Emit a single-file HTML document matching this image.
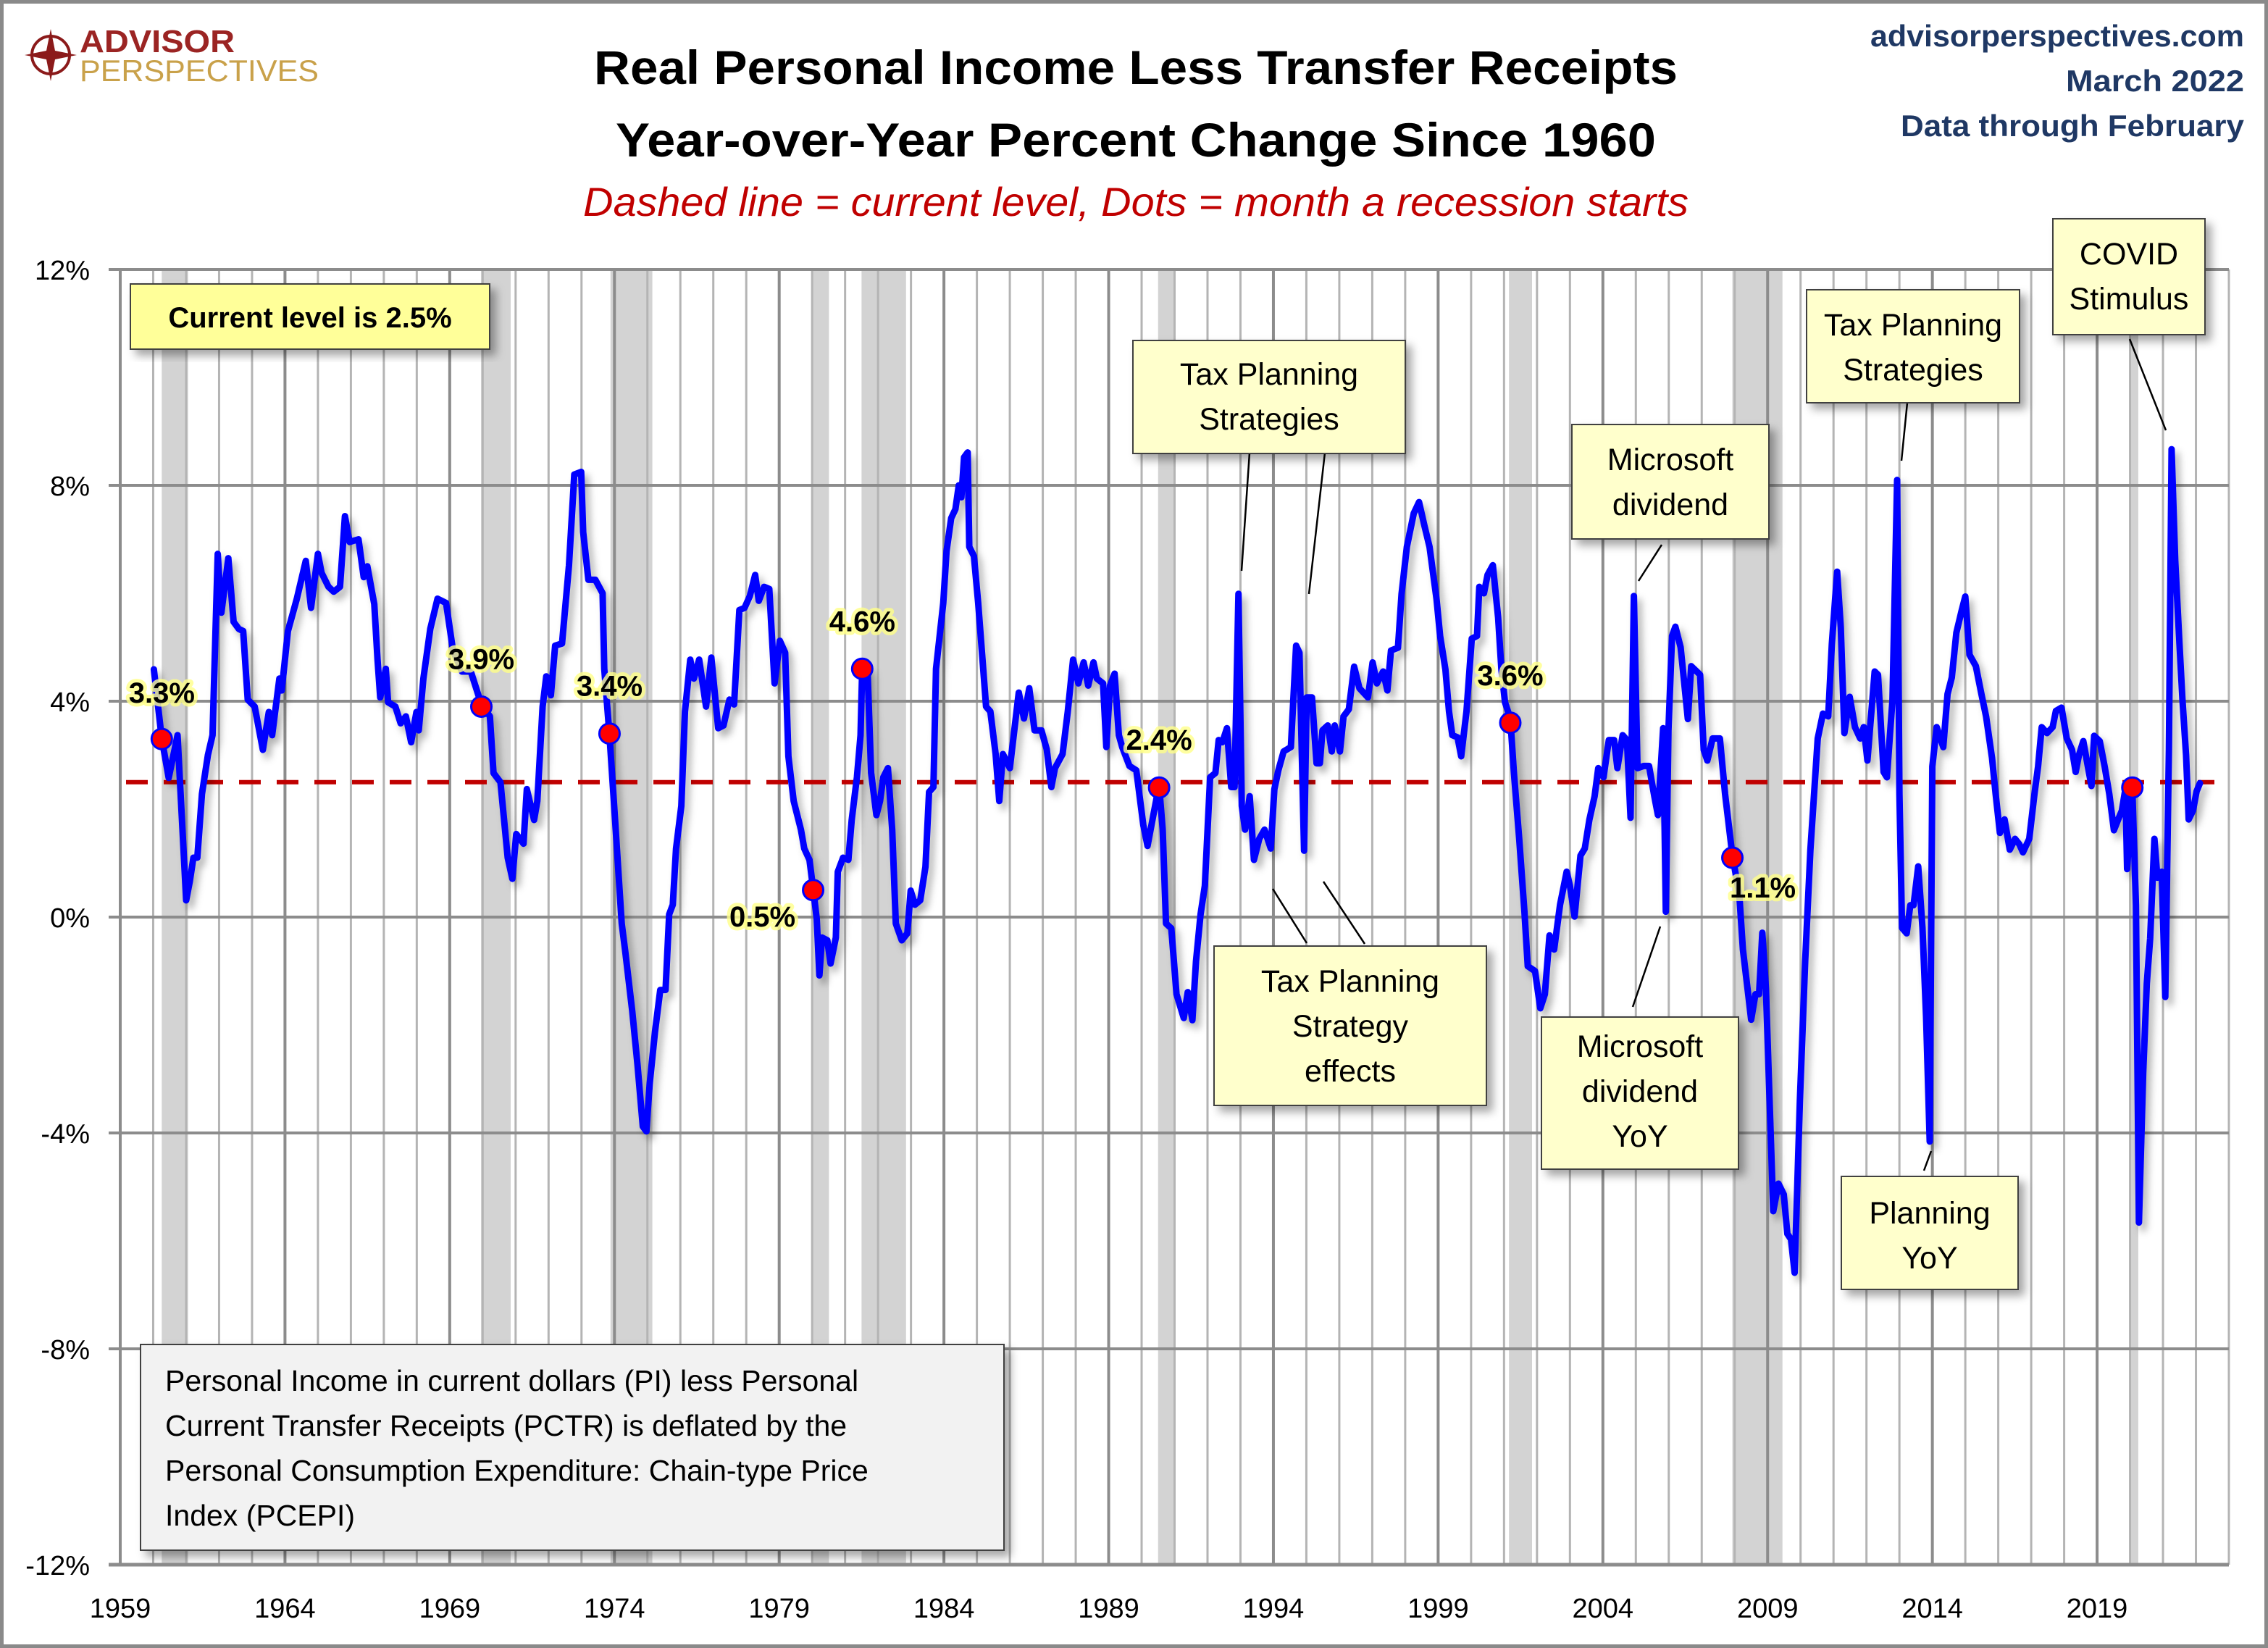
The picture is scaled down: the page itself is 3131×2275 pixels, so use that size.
<!DOCTYPE html>
<html><head><meta charset="utf-8"><title>Real Personal Income Less Transfer Receipts</title>
<style>
html,body{margin:0;padding:0;background:#fff;}
svg{display:block;font-family:"Liberation Sans",sans-serif;}
</style></head>
<body>
<svg id="chart" xmlns="http://www.w3.org/2000/svg" width="3131" height="2275" viewBox="0 0 3131 2275">
<defs>
<filter id="shadow" x="-5%" y="-5%" width="110%" height="110%"><feDropShadow dx="6" dy="8" stdDeviation="5" flood-color="#000" flood-opacity="0.3"/></filter>
<filter id="boxshadow" x="-10%" y="-10%" width="125%" height="130%"><feDropShadow dx="8" dy="8" stdDeviation="6" flood-color="#000" flood-opacity="0.35"/></filter>
</defs>
<rect x="0" y="0" width="3131" height="2275" fill="#fff"/>
<rect x="2.5" y="2.5" width="3126" height="2270" fill="none" stroke="#8a8a8a" stroke-width="5"/>
<g id="plot"></g>
<g>
<circle cx="70" cy="76" r="26" fill="none" stroke="#8B1A1A" stroke-width="4"/>
<polygon points="70,40 76,70 106,76 76,82 70,112 64,82 34,76 64,70" fill="#8B1A1A"/>
<text x="110" y="72" font-size="44" font-weight="bold" fill="#9B2423" textLength="214" lengthAdjust="spacingAndGlyphs">ADVISOR</text>
<text x="110" y="112" font-size="42" fill="#C9A14A" textLength="330" lengthAdjust="spacingAndGlyphs">PERSPECTIVES</text>
</g>
<text x="1568" y="116" text-anchor="middle" font-size="66" font-weight="bold" fill="#000" textLength="1496" lengthAdjust="spacingAndGlyphs">Real Personal Income Less Transfer Receipts</text>
<text x="1568" y="216" text-anchor="middle" font-size="66" font-weight="bold" fill="#000" textLength="1436" lengthAdjust="spacingAndGlyphs">Year-over-Year Percent Change Since 1960</text>
<text x="1568" y="298" text-anchor="middle" font-size="56" font-style="italic" fill="#C00000" textLength="1526" lengthAdjust="spacingAndGlyphs">Dashed line = current level, Dots = month a recession starts</text>
<text x="3098" y="64" text-anchor="end" font-size="42" font-weight="bold" fill="#1F3864" textLength="516" lengthAdjust="spacingAndGlyphs">advisorperspectives.com</text>
<text x="3098" y="126" text-anchor="end" font-size="42" font-weight="bold" fill="#1F3864" textLength="246" lengthAdjust="spacingAndGlyphs">March 2022</text>
<text x="3098" y="188" text-anchor="end" font-size="42" font-weight="bold" fill="#1F3864" textLength="474" lengthAdjust="spacingAndGlyphs">Data through February</text>
</svg>
<script>
const yTicks = [12, 8, 4, 0, -4, -8, -12];
const yTickLabels = ["12%", "8%", "4%", "0%", "-4%", "-8%", "-12%"];
const xTickYears = [1959, 1964, 1969, 1974, 1979, 1984, 1989, 1994, 1999, 2004, 2009, 2014, 2019];
const currentLevel = 2.5;
const recessionStarts = [1960.26, 1969.95, 1973.88, 1980.03, 1981.5, 1990.5, 2001.15, 2007.93, 2019.99];
const recessionEnds   = [1961.06, 1970.85, 1975.15, 1980.51, 1982.85, 1991.0, 2001.85, 2009.45, 2020.25];
const dotYears  = [1960.26, 1969.96, 1973.85, 1980.03, 1981.52, 1990.53, 2001.19, 2007.93, 2020.07];
const dotValues = [3.3, 3.9, 3.4, 0.5, 4.6, 2.4, 3.6, 1.1, 2.4];
const dotLabels = ["3.3%", "3.9%", "3.4%", "0.5%", "4.6%", "2.4%", "3.6%", "1.1%", "2.4%"];
const incomeSeries = [
[1960.02,4.59],[1960.26,3.31],[1960.47,2.58],[1960.74,3.37],[1961.0,0.31],[1961.11,0.66],[1961.22,1.1],[1961.34,1.1],[1961.48,2.28],[1961.66,3.0],[1961.8,3.37],[1961.96,6.73],[1962.07,5.64],[1962.28,6.65],[1962.44,5.47],[1962.6,5.34],[1962.73,5.3],[1962.87,4.03],[1963.08,3.9],[1963.33,3.1],[1963.51,3.8],[1963.61,3.37],[1963.83,4.42],[1963.9,4.2],[1964.09,5.3],[1964.36,5.9],[1964.63,6.6],[1964.79,5.73],[1965.0,6.73],[1965.11,6.38],[1965.32,6.12],[1965.48,6.03],[1965.67,6.12],[1965.82,7.43],[1965.96,6.95],[1966.23,7.0],[1966.39,6.3],[1966.5,6.5],[1966.71,5.8],[1966.81,4.77],[1966.89,4.07],[1967.06,4.6],[1967.13,3.98],[1967.35,3.9],[1967.51,3.59],[1967.67,3.72],[1967.83,3.24],[1967.99,3.8],[1968.06,3.46],[1968.2,4.42],[1968.41,5.34],[1968.63,5.9],[1968.89,5.82],[1969.1,4.94],[1969.37,4.55],[1969.64,4.55],[1969.96,3.94],[1970.22,3.72],[1970.33,2.67],[1970.54,2.5],[1970.76,1.1],[1970.9,0.71],[1971.02,1.54],[1971.24,1.36],[1971.34,2.37],[1971.56,1.8],[1971.66,2.15],[1971.82,3.9],[1971.93,4.46],[1972.07,4.11],[1972.2,5.03],[1972.41,5.07],[1972.62,6.52],[1972.78,8.2],[1972.99,8.25],[1973.05,7.13],[1973.21,6.25],[1973.42,6.25],[1973.64,6.0],[1973.69,4.6],[1973.85,3.37],[1974.01,1.89],[1974.22,-0.12],[1974.33,-0.65],[1974.54,-1.74],[1974.7,-2.74],[1974.86,-3.88],[1974.97,-3.97],
[1975.07,-3.09],[1975.23,-2.13],[1975.39,-1.35],[1975.55,-1.35],[1975.66,0.05],[1975.77,0.23],[1975.87,1.27],[1976.03,2.06],[1976.14,3.81],[1976.3,4.77],[1976.41,4.42],[1976.57,4.77],[1976.78,3.9],[1976.94,4.81],[1977.15,3.5],[1977.31,3.55],[1977.49,4.03],[1977.63,3.94],[1977.79,5.69],[1977.95,5.73],[1978.11,5.95],[1978.27,6.34],[1978.38,5.86],[1978.54,6.12],[1978.7,6.08],[1978.86,4.33],[1979.02,5.12],[1979.18,4.9],[1979.28,2.98],[1979.44,2.15],[1979.66,1.62],[1979.76,1.27],[1979.92,1.06],[1980.03,0.53],[1980.14,-0.03],[1980.22,-1.08],[1980.3,-0.38],[1980.46,-0.43],[1980.56,-0.86],[1980.72,-0.38],[1980.78,0.84],[1980.94,1.1],[1981.1,1.06],[1981.2,1.8],[1981.36,2.59],[1981.47,3.37],[1981.52,4.6],[1981.68,4.6],[1981.79,2.67],[1981.95,1.89],[1982.06,2.15],[1982.16,2.59],[1982.3,2.76],[1982.43,1.62],[1982.54,-0.12],[1982.72,-0.43],[1982.89,-0.3],[1982.99,0.49],[1983.12,0.23],[1983.28,0.31],[1983.44,0.93],[1983.55,2.32],[1983.68,2.41],[1983.76,4.6],[1983.98,5.82],[1984.08,6.78],[1984.22,7.39],[1984.35,7.56],[1984.45,8.0],[1984.53,7.78],[1984.61,8.52],[1984.72,8.61],[1984.77,6.86],[1984.91,6.69],[1985.04,5.82],[1985.15,4.94],[1985.28,3.9],[1985.41,3.81],[1985.57,3.02],[1985.68,2.15],[1985.79,3.02],[1986.0,2.76],[1986.27,4.16],[1986.43,3.68],[1986.59,4.24],[1986.75,3.46],[1986.96,3.46],[1987.12,3.11],[1987.26,2.41],[1987.37,2.76],[1987.6,3.02],[1987.76,3.81],[1987.92,4.77],[1988.08,4.33],[1988.24,4.72],[1988.38,4.29],[1988.54,4.72],[1988.64,4.42],[1988.83,4.33],[1988.93,3.15],[1989.04,4.29],[1989.18,4.51],[1989.31,3.37],[1989.41,3.15],[1989.63,2.8],[1989.84,2.72],[1990.05,1.71],[1990.18,1.32],[1990.53,2.45],
[1990.64,1.62],[1990.74,-0.12],[1990.9,-0.21],[1991.06,-1.43],[1991.28,-1.87],[1991.4,-1.39],[1991.54,-1.91],[1991.65,-0.82],[1991.79,0.05],[1991.92,0.58],[1992.08,2.59],[1992.24,2.67],[1992.34,3.28],[1992.45,3.24],[1992.59,3.5],[1992.72,2.41],[1992.82,2.41],[1992.94,5.99],[1993.04,2.06],[1993.14,1.62],[1993.28,2.24],[1993.41,1.06],[1993.57,1.45],[1993.73,1.62],[1993.92,1.27],[1994.03,2.37],[1994.15,2.72],[1994.31,3.07],[1994.53,3.15],[1994.69,5.03],[1994.79,4.9],[1994.93,1.23],[1995.01,4.07],[1995.17,4.07],[1995.31,2.85],[1995.41,2.85],[1995.49,3.46],[1995.65,3.55],[1995.77,3.07],[1995.86,3.55],[1996.02,3.07],[1996.13,3.72],[1996.29,3.85],[1996.45,4.64],[1996.61,4.24],[1996.87,4.07],[1997.01,4.72],[1997.14,4.33],[1997.33,4.55],[1997.46,4.2],[1997.57,4.94],[1997.78,4.99],[1997.89,5.99],[1998.05,6.86],[1998.26,7.48],[1998.42,7.69],[1998.58,7.26],[1998.74,6.86],[1998.95,5.9],[1999.06,5.21],[1999.22,4.59],[1999.33,3.81],[1999.43,3.37],[1999.59,3.33],[1999.7,2.98],[1999.86,3.81],[2000.02,5.16],[2000.18,5.21],[2000.25,6.12],[2000.39,6.0],[2000.5,6.34],[2000.66,6.52],[2000.82,5.55],[2000.92,4.59],[2001.03,3.98],[2001.19,3.68],[2001.3,2.67],[2001.46,1.45],[2001.62,0.1],[2001.72,-0.91],[2001.94,-1.0],[2002.1,-1.69],[2002.24,-1.43],[2002.38,-0.34],[2002.52,-0.6],[2002.7,0.23],[2002.9,0.84],[2003.0,0.58],[2003.14,0.01],[2003.32,1.14],[2003.45,1.27],[2003.59,1.8],[2003.75,2.24],[2003.86,2.76],[2004.02,2.59],[2004.18,3.28],[2004.34,3.28],[2004.44,2.76],[2004.6,3.37],[2004.73,3.28],[2004.84,1.84],[2004.94,5.95],[2005.05,2.76],[2005.24,2.8],[2005.4,2.8],[2005.56,2.24],[2005.67,1.89],[2005.83,3.5],[2005.91,0.1],[2005.99,3.46],[2006.1,5.21],[2006.2,5.38],
[2006.36,5.0],[2006.47,4.34],[2006.58,3.67],[2006.68,4.65],[2006.85,4.55],[2006.95,4.49],[2007.06,3.1],[2007.17,2.9],[2007.33,3.31],[2007.55,3.31],[2007.71,2.28],[2007.93,1.14],[2008.14,0.42],[2008.25,-0.6],[2008.41,-1.43],[2008.5,-1.9],[2008.63,-1.43],[2008.74,-1.43],[2008.84,-0.29],[2008.95,-1.33],[2009.06,-3.39],[2009.17,-5.45],[2009.33,-4.94],[2009.49,-5.14],[2009.6,-5.87],[2009.71,-5.97],[2009.82,-6.59],[2009.98,-3.39],[2010.14,-0.81],[2010.3,1.25],[2010.52,3.31],[2010.68,3.77],[2010.84,3.72],[2010.95,5.06],[2011.11,6.4],[2011.22,5.37],[2011.33,3.41],[2011.49,4.08],[2011.65,3.52],[2011.81,3.31],[2011.92,3.52],[2012.03,2.9],[2012.25,4.55],[2012.35,4.49],[2012.52,2.69],[2012.62,2.59],[2012.79,4.03],[2012.93,8.1],[2013.0,2.28],[2013.08,-0.2],[2013.22,-0.3],[2013.33,0.22],[2013.43,0.22],[2013.57,0.94],[2013.7,-0.2],[2013.81,-1.85],[2013.92,-4.16],[2014.0,2.79],[2014.13,3.52],[2014.33,3.15],[2014.46,4.13],[2014.59,4.44],[2014.73,5.27],[2014.89,5.68],[2015.0,5.94],[2015.13,4.86],[2015.32,4.65],[2015.49,4.13],[2015.63,3.72],[2015.81,2.95],[2015.92,2.28],[2016.05,1.56],[2016.19,1.81],[2016.35,1.25],[2016.51,1.45],[2016.64,1.35],[2016.75,1.2],[2016.94,1.45],[2017.1,2.28],[2017.21,2.79],[2017.32,3.52],[2017.48,3.41],[2017.65,3.52],[2017.75,3.82],[2017.92,3.88],[2018.08,3.31],[2018.24,3.1],[2018.35,2.69],[2018.45,3.0],[2018.58,3.26],[2018.72,2.79],[2018.83,2.43],[2018.91,3.36],[2019.08,3.26],[2019.23,2.79],[2019.37,2.28],[2019.51,1.61],[2019.64,1.81],[2019.75,1.97],[2019.86,2.38],[2019.91,0.89],[2020.07,2.38],[2020.18,0.22],[2020.27,-5.66],[2020.4,-2.88],[2020.51,-1.23],[2020.61,-0.4],[2020.74,1.45],[2020.83,0.73],[2020.96,0.84],[2021.07,-1.48],[2021.18,3.1],[2021.26,8.67],[2021.37,6.61],[2021.5,5.06],[2021.59,4.03],[2021.7,3.0],[2021.78,1.81],[2021.91,1.97],[2022.02,2.33],[2022.12,2.48]
];

const NS = "http://www.w3.org/2000/svg";
const X0 = 166, X1 = 3077, Y0 = 372, Y1 = 2160;
const yearMin = 1959, yearMax = 2023, vMax = 12, vMin = -12;
function xScale(yr){ return X0 + (yr - yearMin) / (yearMax - yearMin) * (X1 - X0); }
function yScale(v){ return Y0 + (vMax - v) / (vMax - vMin) * (Y1 - Y0); }
function mk(tag, attrs, parent){
  const el = document.createElementNS(NS, tag);
  for (const k in attrs) el.setAttribute(k, attrs[k]);
  (parent || plot).appendChild(el);
  return el;
}
const svg = document.getElementById('chart');
const plot = document.getElementById('plot');

for (let i = 0; i < recessionStarts.length; i++) {
  const r = mk('rect', {x: xScale(recessionStarts[i]), y: Y0, width: xScale(recessionEnds[i]) - xScale(recessionStarts[i]), height: Y1 - Y0, fill: '#d3d3d3'});
  
  
}
for (let yr = yearMin + 1; yr <= yearMax; yr++) {
  const major = (yr - yearMin) % 5 === 0;
  const l = mk('line', {x1: xScale(yr), x2: xScale(yr), y1: Y0, y2: Y1, stroke: major ? '#8c8c8c' : '#b4b4b4', 'stroke-width': major ? 4 : 3});
  
  
}
for (let i = 0; i < yTicks.length; i++) {
  const y = yScale(yTicks[i]);
  const g = mk('line', {x1: 150, x2: X1, y1: y, y2: y, stroke: '#8c8c8c', 'stroke-width': 4});
  
  
  const t = mk('text', {x: 124, y: y + 14, 'text-anchor': 'end', 'font-size': 38, fill: '#000'});
  t.textContent = yTickLabels[i];
  
  
}
const ax = mk('line', {x1: X0, x2: X0, y1: Y0, y2: Y1, stroke: '#8c8c8c', 'stroke-width': 4});


const bx = mk('line', {x1: X0 - 16, x2: X1, y1: Y1, y2: Y1, stroke: '#8c8c8c', 'stroke-width': 5});


for (const yr of xTickYears) {
  const t = mk('text', {x: xScale(yr), y: 2233, 'text-anchor': 'middle', 'font-size': 38, fill: '#000'});
  t.textContent = String(yr);
  
  
}
const cl = mk('line', {x1: X0 + 8, x2: X1 - 20, y1: yScale(currentLevel), y2: yScale(currentLevel), stroke: '#C00000', 'stroke-width': 6, 'stroke-dasharray': '30 22'});


const pts = incomeSeries.map(p => xScale(p[0]).toFixed(1) + ',' + yScale(p[1]).toFixed(1)).join(' ');
const line = mk('polyline', {points: pts, fill: 'none', stroke: '#0000FF', 'stroke-width': 9, 'stroke-linejoin': 'round', 'stroke-linecap': 'round', filter: 'url(#shadow)'});


for (let i = 0; i < dotYears.length; i++) {
  const c = mk('circle', {cx: xScale(dotYears[i]), cy: yScale(dotValues[i]), r: 14, fill: '#FF0000', stroke: '#0000FF', 'stroke-width': 3});
  
  
}
const labelDx = [0, 0, 0, -70, 0, 0, 0, 42, 0];
const labelDy = [-50, -52, -52, 50, -52, -52, -52, 55, 0];
for (let i = 0; i < dotYears.length - 1; i++) {
  const t = mk('text', {x: xScale(dotYears[i]) + labelDx[i], y: yScale(dotValues[i]) + labelDy[i], 'text-anchor': 'middle', 'font-size': 40, 'font-weight': 'bold', fill: '#000', stroke: '#FFFF88', 'stroke-width': 10, 'stroke-opacity': 0.8, 'paint-order': 'stroke', 'stroke-linejoin': 'round'});
  t.textContent = dotLabels[i];
  
  
}
const leaders = [[1725,625,1714,788],[1829,625,1807,820],[1757,1227,1804,1302],[1827,1217,1884,1303],[2294,752,2262,802],[2292,1279,2254,1390],[2666,1589,2656,1616],[2633,556,2625,636],[2940,468,2990,594]];
for (const L of leaders) {
  const l = mk('line', {x1: L[0], y1: L[1], x2: L[2], y2: L[3], stroke: '#000', 'stroke-width': 2.5}, svg);
  
  
}
function box(name, x, y, w, h, fill, lines, baselines, size, weight, anchor, tx) {
  const g = mk('g', {}, svg);
  
  
  mk('rect', {x: x, y: y, width: w, height: h, fill: fill, stroke: '#404040', 'stroke-width': 2, filter: 'url(#boxshadow)'}, g);
  for (let i = 0; i < lines.length; i++) {
    const t = mk('text', {x: tx !== undefined ? tx : x + w / 2, y: baselines[i], 'text-anchor': anchor || 'middle', 'font-size': size, 'font-weight': weight || 'normal', fill: '#000'}, g);
    t.textContent = lines[i];
  }
}
box('current-level-box', 180, 392, 496, 90, '#FFFF99', ['Current level is 2.5%'], [452], 40, 'bold');
box('tax-planning-annotation', 1564, 470, 376, 156, '#FFFFCC', ['Tax Planning', 'Strategies'], [531, 593], 43);
box('microsoft-dividend-annotation', 2170, 586, 272, 158, '#FFFFCC', ['Microsoft', 'dividend'], [649, 711], 43);
box('tax-planning-2013-annotation', 2494, 400, 294, 156, '#FFFFCC', ['Tax Planning', 'Strategies'], [463, 525], 43);
box('covid-stimulus-annotation', 2834, 302, 210, 160, '#FFFFCC', ['COVID', 'Stimulus'], [365, 427], 43);
box('tax-strategy-effects-annotation', 1676, 1306, 376, 220, '#FFFFCC', ['Tax Planning', 'Strategy', 'effects'], [1369, 1431, 1493], 43);
box('microsoft-dividend-yoy-annotation', 2128, 1404, 272, 210, '#FFFFCC', ['Microsoft', 'dividend', 'YoY'], [1459, 1521, 1583], 43);
box('planning-yoy-annotation', 2542, 1624, 244, 156, '#FFFFCC', ['Planning', 'YoY'], [1689, 1751], 43);
box('methodology-note', 194, 1856, 1192, 284, '#F2F2F2', ['Personal Income in current dollars  (PI) less Personal', 'Current Transfer Receipts (PCTR) is deflated by the', 'Personal Consumption Expenditure: Chain-type Price', 'Index (PCEPI)'], [1920, 1982, 2044, 2106], 41, 'normal', 'start', 228);
</script>
</body></html>
